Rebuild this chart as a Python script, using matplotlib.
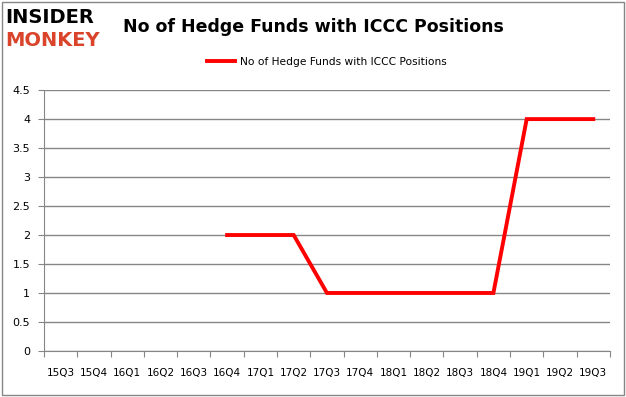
import numpy as np
import matplotlib.pyplot as plt
from matplotlib.patches import Rectangle

quarters = ["15Q3", "15Q4", "16Q1", "16Q2", "16Q3", "16Q4", "17Q1", "17Q2", "17Q3",
            "17Q4", "18Q1", "18Q2", "18Q3", "18Q4", "19Q1", "19Q2", "19Q3"]
funds = [np.nan, np.nan, np.nan, np.nan, np.nan, 2, 2, 2, 1, 1, 1, 1, 1, 1, 4, 4, 4]
yticks = [0, 0.5, 1, 1.5, 2, 2.5, 3, 3.5, 4, 4.5]
series_name = "No of Hedge Funds with ICCC Positions"

fig = plt.figure(figsize=(6.26, 3.97), dpi=100)
ax = fig.add_axes([0.0703, 0.116, 0.904, 0.657])

x = np.arange(len(quarters)) + 0.5
ax.plot(x, funds, color="#ff0000", linewidth=2.8, label=series_name, solid_joinstyle="miter")

ax.set_xlim(0, len(quarters))
ax.set_ylim(0, 4.5)
ax.set_yticks(yticks)
ax.set_yticklabels([f"{v:g}" for v in yticks], fontsize=8)
ax.set_xticks(np.arange(len(quarters) + 1))
ax.set_xticklabels([])
ax.set_xticks(x, minor=True)
ax.set_xticklabels(quarters, minor=True, fontsize=7.5)
ax.tick_params(axis="x", which="minor", length=0, pad=12)
ax.tick_params(axis="x", which="major", length=4, color="#868686")
ax.tick_params(axis="y", length=4, color="#868686", pad=6)
ax.grid(axis="y", color="#868686", linewidth=1)
ax.set_axisbelow(True)
for side in ["top", "right"]:
    ax.spines[side].set_visible(False)
for side in ["left", "bottom"]:
    ax.spines[side].set_color("#868686")

ax.legend(loc="center", bbox_to_anchor=(0.5, 1.107), frameon=False,
          fontsize=7.7, handlelength=2.6, handletextpad=0.5)

fig.text(0.5, 0.932, "No of Hedge Funds with ICCC Positions", ha="center", va="center",
         fontsize=12.5, fontweight="bold")
fig.text(0.008, 0.955, "INSIDER", ha="left", va="center", fontsize=14, fontweight="heavy",
         color="black")
fig.text(0.008, 0.898, "MONKEY", ha="left", va="center", fontsize=14, fontweight="heavy",
         color="#d9442b")

fig.patches.append(Rectangle((0.003, 0.004), 0.994, 0.99, transform=fig.transFigure,
                             fill=False, edgecolor="#868686", linewidth=1))

fig.savefig("out.png", dpi=100)
